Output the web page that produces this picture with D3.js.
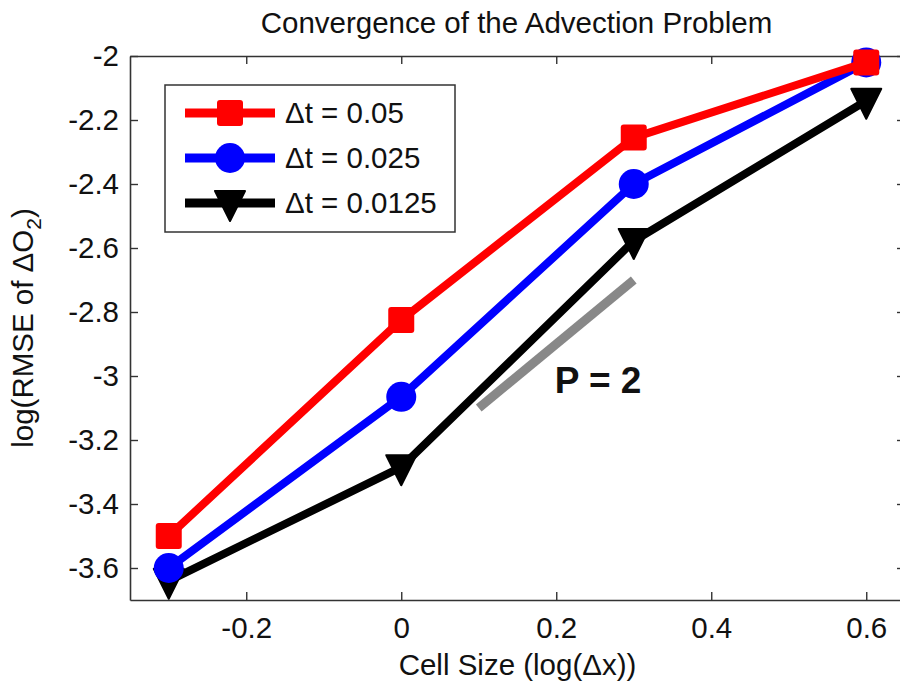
<!DOCTYPE html>
<html>
<head>
<meta charset="utf-8">
<script src="https://cdn.jsdelivr.net/npm/d3@7"></script>
<style>
  html, body { margin: 0; padding: 0; background: #fff; }
  svg { display: block; font-family: "Liberation Sans", Arial, sans-serif; }
</style>
</head>
<body>
<svg id="chart" width="900" height="684"></svg>
<script>
// Grid resolution (log of cell size)
const cellSize = [-0.3, 0, 0.3, 0.6];

// log(RMSE) for each time step
const dt005   = [-3.50, -2.825, -2.255, -2.02];
const dt0025  = [-3.60, -3.065, -2.40, -2.02];
const dt00125 = [-3.64, -3.285, -2.578, -2.14];

const seriesNames = ["\u0394t = 0.05", "\u0394t = 0.025", "\u0394t = 0.0125"];

// Second-order reference slope
const refX = [0.1, 0.3];
const refY = [-3.1, -2.7];
const refLabel = "P = 2";

const xTicks = [-0.2, 0, 0.2, 0.4, 0.6];
const xTickLabels = ["-0.2", "0", "0.2", "0.4", "0.6"];
const yTicks = [-3.6, -3.4, -3.2, -3.0, -2.8, -2.6, -2.4, -2.2, -2.0];
const yTickLabels = ["-3.6", "-3.4", "-3.2", "-3", "-2.8", "-2.6", "-2.4", "-2.2", "-2"];

const svg = d3.select("#chart");
const plotLeft = 130, plotRight = 905, plotTop = 56, plotBottom = 600;

const x = d3.scaleLinear().domain([-0.35, 0.65]).range([plotLeft, plotRight]);
const y = d3.scaleLinear().domain([-3.7, -2.0]).range([plotBottom, plotTop]);

const axisColor = "#333";
const fontSize = 29.5;

// Axes box with inward ticks on all sides
const axG = svg.append("g");
const tickLen = 8;
const axisBottom = d3.axisBottom(x).tickValues(xTicks).tickSizeInner(-tickLen).tickSizeOuter(0)
  .tickFormat((d, i) => xTickLabels[i]).tickPadding(17);
const axisTop = d3.axisTop(x).tickValues(xTicks).tickSizeInner(-tickLen).tickSizeOuter(0).tickFormat("");
const axisLeft = d3.axisLeft(y).tickValues(yTicks).tickSizeInner(-tickLen).tickSizeOuter(0)
  .tickFormat((d, i) => yTickLabels[i]).tickPadding(11);
const axisRight = d3.axisRight(y).tickValues(yTicks).tickSizeInner(-tickLen).tickSizeOuter(0).tickFormat("");

axG.append("g").attr("transform", `translate(0,${plotBottom})`).call(axisBottom);
axG.append("g").attr("transform", `translate(0,${plotTop})`).call(axisTop);
axG.append("g").attr("transform", `translate(${plotLeft},0)`).call(axisLeft);
axG.append("g").attr("transform", `translate(${plotRight},0)`).call(axisRight);
axG.selectAll(".domain").attr("stroke", axisColor).attr("stroke-width", 1.6);
axG.selectAll(".tick line").attr("stroke", axisColor).attr("stroke-width", 1.4);
axG.selectAll(".tick text")
  .attr("font-size", fontSize).attr("fill", "#111")
  .attr("font-family", "Liberation Sans, Arial, sans-serif");

// Reference slope line
svg.append("line")
  .attr("x1", x(refX[0])).attr("y1", y(refY[0]))
  .attr("x2", x(refX[1])).attr("y2", y(refY[1]))
  .attr("stroke", "#888").attr("stroke-width", 9);

svg.append("text")
  .attr("x", x(0.198)).attr("y", y(-3.053))
  .attr("font-size", 37).attr("font-weight", "bold").attr("fill", "#111")
  .text(refLabel);

// Series
const series = [
  { name: seriesNames[0], values: dt005, color: "#ff0000", marker: "square" },
  { name: seriesNames[1], values: dt0025, color: "#0000ff", marker: "circle" },
  { name: seriesNames[2], values: dt00125, color: "#000000", marker: "triangle" }
];

const line = d3.line().x((d, i) => x(cellSize[i])).y(d => y(d));

function drawMarker(g, type, cx, cy, color) {
  if (type === "square") {
    g.append("rect").attr("x", cx - 13).attr("y", cy - 13).attr("width", 26).attr("height", 26)
      .attr("rx", 3).attr("fill", color);
  } else if (type === "circle") {
    g.append("circle").attr("cx", cx).attr("cy", cy).attr("r", 15).attr("fill", color);
  } else {
    g.append("path")
      .attr("d", `M${cx - 15},${cy - 12} L${cx + 15},${cy - 12} L${cx},${cy + 18} Z`)
      .attr("fill", color).attr("stroke", color).attr("stroke-width", 2).attr("stroke-linejoin", "round");
  }
}

const plotG = svg.append("g");
series.slice().reverse().forEach(s => {
  plotG.append("path")
    .attr("d", line(s.values))
    .attr("fill", "none").attr("stroke", s.color).attr("stroke-width", 8)
    .attr("stroke-linejoin", "round");
  s.values.forEach((v, i) => drawMarker(plotG, s.marker, x(cellSize[i]), y(v), s.color));
});

// Legend
const lg = svg.append("g");
lg.append("rect").attr("x", 165).attr("y", 85).attr("width", 290).attr("height", 147)
  .attr("fill", "#fff").attr("stroke", axisColor).attr("stroke-width", 1.5);
series.forEach((s, i) => {
  const ly = 113 + i * 45;
  lg.append("line").attr("x1", 185).attr("x2", 275).attr("y1", ly).attr("y2", ly)
    .attr("stroke", s.color).attr("stroke-width", 9);
  drawMarker(lg, s.marker, 230, ly, s.color);
  lg.append("text").attr("x", 285).attr("y", ly + 10)
    .attr("font-size", fontSize).attr("fill", "#111").text(s.name);
});

// Title and axis labels
svg.append("text").attr("x", (plotLeft + plotRight) / 2 - 1).attr("y", 33)
  .attr("text-anchor", "middle").attr("font-size", fontSize).attr("fill", "#111")
  .text("Convergence of the Advection Problem");

svg.append("text").attr("x", (plotLeft + plotRight) / 2).attr("y", 675)
  .attr("text-anchor", "middle").attr("font-size", fontSize).attr("fill", "#111")
  .text("Cell Size (log(\u0394x))");

const yl = svg.append("text")
  .attr("transform", `translate(33,${(plotTop + plotBottom) / 2}) rotate(-90)`)
  .attr("text-anchor", "middle").attr("font-size", fontSize).attr("fill", "#111");
yl.append("tspan").text("log(RMSE of \u0394O");
yl.append("tspan").attr("font-size", 21).attr("dy", 8).text("2");
yl.append("tspan").attr("dy", -8).text(")");
</script>
</body>
</html>
